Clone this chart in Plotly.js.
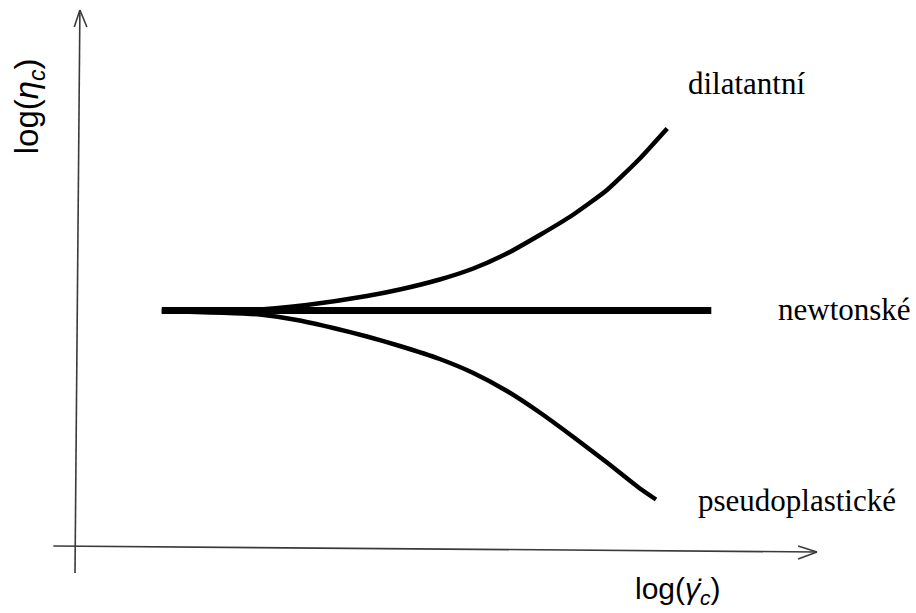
<!DOCTYPE html>
<html>
<head>
<meta charset="utf-8">
<script src="https://cdn.plot.ly/plotly-3.0.1.min.js"></script>
<style>
  html, body { margin: 0; padding: 0; background: #fff; }
  #chart { width: 916px; height: 613px; }
</style>
</head>
<body>
<div id="chart"></div>
<script>
// Flow curves: log of apparent viscosity against log of shear rate (arbitrary units)
const newtonX = [1.24, 9.09];
const newtonY = [4.73, 4.73];

const dilatantX = [1.24, 2.64, 3.31, 4.17, 4.64, 5.21, 5.69, 6.17, 6.64, 7.11, 7.60, 8.07, 8.46];
const dilatantY = [4.72, 4.75, 4.84, 5.02, 5.15, 5.35, 5.57, 5.87, 6.24, 6.64, 7.14, 7.77, 8.37];

const pseudoX = [1.24, 2.64, 3.21, 3.69, 4.17, 4.64, 5.21, 5.69, 6.17, 6.64, 7.11, 7.60, 8.07, 8.30];
const pseudoY = [4.72, 4.65, 4.53, 4.38, 4.21, 4.02, 3.76, 3.48, 3.12, 2.69, 2.21, 1.69, 1.17, 0.95];

const curveNames = ['newtonské', 'dilatantní', 'pseudoplastické'];

const traces = [
  { x: newtonX, y: newtonY, mode: 'lines', name: curveNames[0],
    line: { color: '#000', width: 7 } },
  { x: dilatantX, y: dilatantY, mode: 'lines', name: curveNames[1],
    line: { color: '#000', width: 4.5, shape: 'spline', smoothing: 0.5 } },
  { x: pseudoX, y: pseudoY, mode: 'lines', name: curveNames[2],
    line: { color: '#000', width: 4.5, shape: 'spline', smoothing: 0.5 } }
];

// hand-drawn style axes with open arrowheads
const axisLine = { color: '#3a3a3a', width: 1.6 };
const shapes = [
  // vertical axis
  { type: 'line', xref: 'x', yref: 'y', x0: 0.0, y0: -0.52, x1: 0.07, y1: 10.74, line: axisLine },
  { type: 'line', xref: 'x', yref: 'y', x0: 0.07, y0: 10.74, x1: -0.01, y1: 10.40, line: axisLine },
  { type: 'line', xref: 'x', yref: 'y', x0: 0.07, y0: 10.74, x1: 0.17, y1: 10.40, line: axisLine },
  // horizontal axis
  { type: 'line', xref: 'x', yref: 'y', x0: -0.31, y0: 0.02, x1: 10.60, y1: -0.10, line: axisLine },
  { type: 'line', xref: 'x', yref: 'y', x0: 10.60, y0: -0.10, x1: 10.33, y1: 0.02, line: axisLine },
  { type: 'line', xref: 'x', yref: 'y', x0: 10.60, y0: -0.10, x1: 10.33, y1: -0.24, line: axisLine }
];

function serifFont() {
  return { family: 'Liberation Serif, Times New Roman, serif', size: 31, color: '#000' };
}
function sansFont(size) {
  return { family: 'Liberation Sans, Arial, sans-serif', size: size, color: '#000' };
}

const annotations = [
  { x: 9.59, y: 9.28, text: curveNames[1], showarrow: false, font: serifFont(), xanchor: 'center', yanchor: 'middle' },
  { x: 10.99, y: 4.76, text: curveNames[0], showarrow: false, font: serifFont(), xanchor: 'center', yanchor: 'middle' },
  { x: 10.32, y: 0.94, text: curveNames[2], showarrow: false, font: serifFont(), xanchor: 'center', yanchor: 'middle' },
  { x: 8.62, y: -0.86, text: 'log(<i>γ̇</i><sub><i>c</i></sub>)', showarrow: false, font: sansFont(30),
    xanchor: 'center', yanchor: 'middle' },
  { x: -0.66, y: 8.81, text: 'log(<i>η</i><sub><i>c</i></sub>)', showarrow: false, font: sansFont(33),
    textangle: -90, xanchor: 'center', yanchor: 'middle' }
];

const layout = {
  width: 916, height: 613,
  margin: { l: 0, r: 0, t: 0, b: 0 },
  paper_bgcolor: '#fff', plot_bgcolor: '#fff',
  showlegend: false,
  xaxis: { range: [-1.0714, 12.0143], visible: false, fixedrange: true },
  yaxis: { range: [-1.32, 10.94], visible: false, fixedrange: true },
  shapes: shapes,
  annotations: annotations
};

Plotly.newPlot('chart', traces, layout, { staticPlot: true, displayModeBar: false });
</script>
</body>
</html>
